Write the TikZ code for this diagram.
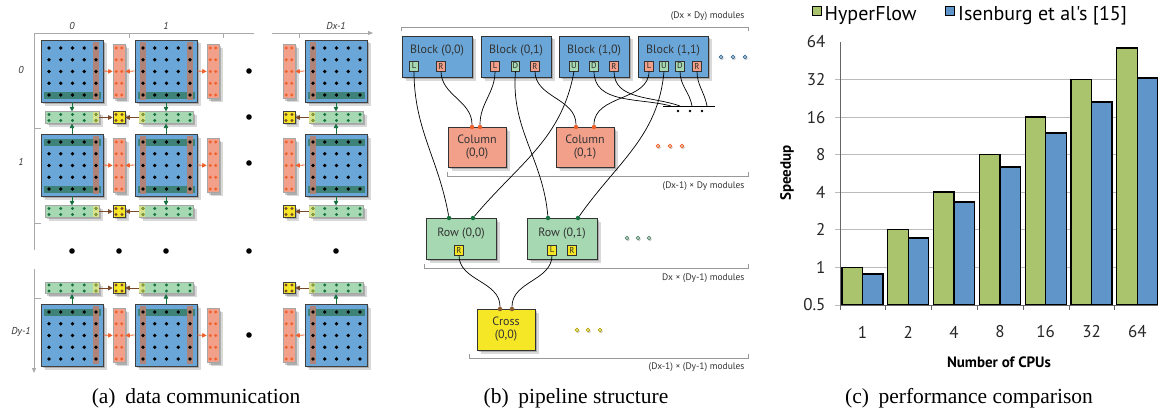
\documentclass[tikz,border=0pt]{standalone}
\usepackage{fontspec}
\setmainfont{Liberation Serif}
\newfontfamily\pts{PT Sans}
\usetikzlibrary{shadows,arrows.meta}
\newcommand{\myfs}[1]{\fontsize{#1}{#1}\selectfont}
\definecolor{blk}{HTML}{6AA7D8}
\definecolor{brs}{HTML}{B7806E}
\definecolor{grs}{HTML}{3B7F6E}
\definecolor{sal}{HTML}{F2A08A}
\definecolor{salD}{HTML}{F0602A}
\definecolor{rowg}{HTML}{A6D8B2}
\definecolor{rowD}{HTML}{167040}
\definecolor{yel}{HTML}{F5E626}
\definecolor{yelg}{HTML}{D9E28C}
\definecolor{yelD}{HTML}{8C9A38}
\definecolor{brn}{HTML}{7A4A28}
\definecolor{axg}{HTML}{AAAAAA}
\definecolor{barG}{HTML}{A9C46C}
\definecolor{barB}{HTML}{5F95C8}
\definecolor{gridc}{HTML}{BBBBBB}
\definecolor{dotb}{HTML}{3A6F9A}
\definecolor{dotg}{HTML}{5A8A70}
\definecolor{doty}{HTML}{B8A800}
\definecolor{dotn}{HTML}{8A5A30}
\begin{document}
\begin{tikzpicture}[x=1pt,y=-1pt,
 shad/.style={drop shadow={shadow xshift=2pt,shadow yshift=-2pt,opacity=.2,fill=black},drop shadow={shadow xshift=3.5pt,shadow yshift=-3.5pt,opacity=.15,fill=black}},
 eshad/.style={drop shadow={shadow xshift=1pt,shadow yshift=-1.5pt,opacity=.2,fill=black}},
 ablock/.style={draw=black!75,line width=0.8pt,fill=blk,minimum width=62pt,minimum height=62pt,inner sep=0pt,shad},
 salstrip/.style={draw=black!35,line width=0.6pt,fill=sal,minimum width=12pt,minimum height=54pt,inner sep=0pt,shad},
 rowstrip/.style={draw=black!35,line width=0.6pt,fill=rowg,minimum width=54pt,minimum height=11.5pt,inner sep=0pt,shad},
 crossb/.style={draw=black!75,line width=0.6pt,fill=yel,minimum width=12pt,minimum height=11.5pt,inner sep=0pt,shad},
 gstr/.style={fill=grs,fill opacity=.9},
 bstr/.style={fill=brs,fill opacity=.9},
 oarr/.style={draw=salD,line width=0.8pt,-{Triangle[length=4.5pt,width=4.5pt]}},
 garr/.style={draw=rowD,line width=0.8pt,-{Triangle[length=4.5pt,width=4.5pt]}},
 narr/.style={draw=brn,line width=0.8pt,-{Triangle[length=4.5pt,width=4.5pt]}},
 axln/.style={draw=axg,line width=0.8pt},
 alab/.style={font=\pts\itshape\myfs{10},text=black!80},
 bblock/.style={draw=black!80,line width=0.9pt,fill=blk,minimum width=70pt,minimum height=41pt,inner sep=0pt,shad},
 colbox/.style={draw=black!80,line width=0.9pt,fill=sal,minimum width=58pt,minimum height=40pt,inner sep=0pt,shad,align=center,font=\pts\myfs{12},text=black!80},
 rowbox/.style={draw=black!80,line width=0.9pt,fill=rowg,minimum width=70pt,minimum height=41pt,inner sep=0pt,shad},
 crossbox/.style={draw=black!80,line width=0.9pt,fill=yel,minimum width=58pt,minimum height=41pt,inner sep=0pt,shad,align=center,font=\pts\myfs{12},text=black!80},
 mtext/.style={font=\pts\myfs{12},text=black!80,anchor=base},
 portb/.style={draw=black!80,line width=0.6pt,minimum width=8.5pt,minimum height=10pt,inner sep=0pt,font=\pts\myfs{8.5},text=black!85},
 pG/.style={portb,fill=rowg},
 pS/.style={portb,fill=sal},
 pY/.style={portb,fill=yel},
 cdot/.style={circle,fill=#1,inner sep=0pt,minimum size=4.5pt},
 edot/.style={circle,draw=#1,fill=#1!35,line width=0.6pt,inner sep=0pt,minimum size=3.8pt,eshad},
 wire/.style={draw=black,line width=0.7pt},
 brk/.style={draw=black!40,line width=0.8pt},
 blab/.style={font=\pts\myfs{9.5},text=black!80},
 barst/.style={draw=black,line width=1.3pt},
 ctext/.style={font=\pts\myfs{17},text=black!85},
 captxt/.style={font=\myfs{21.5},anchor=base}
]
\useasboundingbox (0,0) rectangle (1158,412);

% ================= panel (a) =================
\draw[axln] (34,33) -- (254,33);
\draw[axln] (129,33) -- (129,38);
\draw[axln] (223,33) -- (223,38);
\draw[axln,-{Triangle[length=5pt,width=4pt]}] (272,33) -- (373,33);
\draw[axln] (299,33) -- (299,38);
\draw[axln] (34,33) -- (34,250);
\draw[axln] (34,128) -- (41,128);
\draw[axln] (34,223) -- (41,223);
\draw[axln,-{Triangle[length=5pt,width=4pt]}] (34,269) -- (34,373);
\draw[axln] (34,298) -- (41,298);
\node[alab] (lc0) at (72,26) {0};
\node[alab] (lc1) at (166,26) {1};
\node[alab] (lc2) at (336,26) {Dx-1};
\node[alab] (lr0) at (21,70) {0};
\node[alab] (lr1) at (21,162) {1};
\node[alab] (lr2) at (21,332) {Dy-1};

\foreach \r/\ry in {0/40,1/134,2/304}{
 \foreach \c/\cx in {0/41,1/135,2/305}{
  \node[ablock] (A\r\c) at (\cx+31,\ry+31) {};
 }}
\foreach \ry in {40,134}{\foreach \cx in {41,135,305}{\fill[gstr] (\cx+3,\ry+52) rectangle (\cx+60,\ry+59);}}
\foreach \ry in {134,304}{\foreach \cx in {41,135,305}{\fill[gstr] (\cx+3,\ry+4.5) rectangle (\cx+60,\ry+11.5);}}
\foreach \ry in {40,134,304}{
  \foreach \cx in {41,135}{\fill[bstr] (\cx+52,\ry+2) rectangle (\cx+58,\ry+60);}
  \foreach \cx in {135,305}{\fill[bstr] (\cx+5,\ry+2) rectangle (\cx+11,\ry+60);}}
\foreach \ry in {40,134,304}{\foreach \cx in {41,135,305}{\foreach \i in {0,...,4}{\foreach \j in {0,...,4}{
  \fill (\cx+8+11.75*\i,\ry+8+11.75*\j) circle (1.9pt);}}}}

\foreach \r/\ry in {0/40,1/134,2/304}{
 \foreach \c/\sx in {0/113,1/207,2/283}{
  \node[salstrip] (S\r\c) at (\sx+6,\ry+31.5) {};
  \foreach \j in {0,...,4}{
   \fill[salD] (\sx+3.2,\ry+8+11.75*\j) circle (1.6pt);
   \fill[salD] (\sx+8.8,\ry+8+11.75*\j) circle (1.6pt);}
 }}
\foreach \r in {0,1,2}{
 \draw[oarr] (A\r0.east) -- (S\r0.west);
 \draw[oarr] (A\r1.west) -- (S\r0.east);
 \draw[oarr] (A\r1.east) -- (S\r1.west);
 \draw[oarr] (A\r2.west) -- (S\r2.east);
}

\foreach \k/\yy in {a/117.5,b/211.5,c/288}{
 \foreach \c/\sx in {0/45,1/139,2/309}{
  \node[rowstrip] (R\k\c) at (\sx+27,\yy) {};
 }
 \fill[yelg] (93,\yy-5.4) rectangle (98.6,\yy+5.4);
 \fill[yelg] (139.4,\yy-5.4) rectangle (145,\yy+5.4);
 \fill[yelg] (309.4,\yy-5.4) rectangle (315,\yy+5.4);
 \foreach \sx in {45,139,309}{\foreach \i in {0,...,4}{
  \fill[rowD] (\sx+4+11.75*\i,\yy-3) circle (1.6pt);
  \fill[rowD] (\sx+4+11.75*\i,\yy+3) circle (1.6pt);}}
 \foreach \px in {96,143,313}{
  \fill[yelD] (\px,\yy-3) circle (1.6pt);
  \fill[yelD] (\px,\yy+3) circle (1.6pt);}
 \node[crossb] (X\k0) at (119,\yy) {};
 \node[crossb] (X\k2) at (289,\yy) {};
 \foreach \px in {116,122,286,292}{
  \fill[brn] (\px,\yy-3) circle (1.6pt);
  \fill[brn] (\px,\yy+3) circle (1.6pt);}
 \draw[narr] (R\k0.east) -- (X\k0.west);
 \draw[narr] (R\k1.west) -- (X\k0.east);
 \draw[narr] (R\k2.west) -- (X\k2.east);
}
\foreach \c in {0,1,2}{
 \draw[garr] (A0\c.south) -- (Ra\c.north);
 \draw[garr] (A1\c.north) -- (Ra\c.south);
 \draw[garr] (A1\c.south) -- (Rb\c.north);
 \draw[garr] (A2\c.north) -- (Rc\c.south);
}
\foreach \p in {(249,71),(249,117),(249,163),(249,335),(72,251),(119,251),(166,251),(249,251),(336,251)}{
 \fill \p circle (2.8pt);}

% ================= panel (b) =================
\draw[brk] (401,31) -- (401,27) -- (748,27) -- (748,31);
\node[blab,anchor=east] (m1) at (748,16) {(Dx × Dy) modules};
\node[bblock] (B00) at (437,56.5) {};
\node[bblock] (B01) at (516,56.5) {};
\node[bblock] (B10) at (594,56.5) {};
\node[bblock] (B11) at (673,56.5) {};
\node[mtext] at (437,54) {Block (0,0)};
\node[mtext] at (516,54) {Block (0,1)};
\node[mtext] at (594,54) {Block (1,0)};
\node[mtext] at (673,54) {Block (1,1)};
\node[pG] (B00L) at (414,66) {L};
\node[pS] (B00R) at (441,66) {R};
\node[pS] (B01L) at (495,66) {L};
\node[pG] (B01D) at (515.5,66) {D};
\node[pS] (B01R) at (535,66) {R};
\node[pG] (B10U) at (574,66) {U};
\node[pG] (B10D) at (594,66) {D};
\node[pS] (B10R) at (614,66) {R};
\node[pS] (B11L) at (649,66) {L};
\node[pG] (B11U) at (664,66) {U};
\node[pG] (B11D) at (680,66) {D};
\node[pS] (B11R) at (697,66) {R};
\node[edot=dotb] (e1) at (721,57) {};
\node[edot=dotb] (e2) at (733,57) {};
\node[edot=dotb] (e3) at (745,57) {};

\node[colbox] (C00) at (477,147) {Column\\[1pt](0,0)};
\node[colbox] (C01) at (585,147) {Column\\[1pt](0,1)};
\node[cdot=salD] (C00a) at (472,127) {};
\node[cdot=salD] (C00b) at (480,127) {};
\node[cdot=salD] (C01a) at (576,127) {};
\node[cdot=salD] (C01b) at (594,127) {};
\node[edot=salD] (f1) at (658,146) {};
\node[edot=salD] (f2) at (670,146) {};
\node[edot=salD] (f3) at (682,146) {};
\draw[brk] (447,172) -- (447,176) -- (748,176) -- (748,172);
\node[blab,anchor=east] (m2) at (748,186) {(Dx-1) × Dy modules};

\draw[wire] (663,106) -- (715,106);
\coordinate (L1) at (671,106);
\coordinate (L2) at (680,106);
\coordinate (L3) at (692,106);
\coordinate (L4) at (707,106);
\fill (678,111) circle (1.3pt) (690,111) circle (1.3pt) (702,111) circle (1.3pt);

\node[rowbox] (W00) at (461,238.5) {};
\node[rowbox] (W01) at (562,238.5) {};
\node[mtext] at (461,236) {Row (0,0)};
\node[mtext] at (562,236) {Row (0,1)};
\node[pY] (W00R) at (459,250) {R};
\node[pY] (W01L) at (552,250) {L};
\node[pY] (W01R) at (572,250) {R};
\node[cdot=rowD] (W00a) at (449,218) {};
\node[cdot=rowD] (W00b) at (473,218) {};
\node[cdot=rowD] (W01a) at (548,218) {};
\node[cdot=rowD] (W01b) at (578,218) {};
\node[edot=dotg] (g1) at (627,238) {};
\node[edot=dotg] (g2) at (638,238) {};
\node[edot=dotg] (g3) at (649,238) {};
\draw[brk] (424,264) -- (424,268) -- (748,268) -- (748,264);
\node[blab,anchor=east] (m3) at (748,278) {Dx × (Dy-1) modules};

\node[crossbox] (K00) at (506,329.5) {Cross\\[1pt](0,0)};
\node[cdot=dotn] (K00a) at (500,309) {};
\node[cdot=dotn] (K00b) at (512,309) {};
\node[edot=doty] (h1) at (577,330) {};
\node[edot=doty] (h2) at (588,330) {};
\node[edot=doty] (h3) at (600,330) {};
\draw[brk] (469,354) -- (469,358) -- (748,358) -- (748,354);
\node[blab,anchor=east] (m4) at (748,367) {(Dx-1) × (Dy-1) modules};

\draw[wire] (B00L.south) to[out=-90,in=100] (W00a);
\draw[wire] (B00R.south) to[out=-90,in=90] (C00a);
\draw[wire] (B01L.south) to[out=-90,in=90] (C00b);
\draw[wire] (B01D.south) to[out=-95,in=95] (W01a);
\draw[wire] (B01R.south) to[out=-90,in=90] (C01a);
\draw[wire] (B10U.south) to[out=-100,in=50] (W00b);
\draw[wire] (B10D.south) to[out=-90,in=165] (L1);
\draw[wire] (B10R.south) to[out=-90,in=160] (L2);
\draw[wire] (B11L.south) to[out=-90,in=90] (C01b);
\draw[wire] (B11U.south) to[out=-95,in=55] (W01b);
\draw[wire] (B11D.south) to[out=-90,in=100] (L3);
\draw[wire] (B11R.south) to[out=-90,in=100] (L4);
\draw[wire] (W00R.south) to[out=-90,in=90] (K00a);
\draw[wire] (W01L.south) to[out=-90,in=90] (K00b);

% ================= panel (c) =================
\foreach \k in {0,...,6}{
 \draw[draw=gridc,line width=0.8pt] (835,305-37.57*\k) -- (1158,305-37.57*\k);}
\draw[draw=black!60,line width=0.8pt] (840,42) -- (840,305);
\foreach \i/\g/\b in {0/267.5/274,1/229.5/238,2/192/202,3/154.5/167,4/117/133,5/79.5/102,6/48/78}{
 \draw[barst,fill=barG] (842+45.8*\i,305) rectangle (862.5+45.8*\i,\g);
 \draw[barst,fill=barB] (862.5+45.8*\i,305) rectangle (883+45.8*\i,\b);
}
\draw[draw=black!60,line width=0.8pt] (840,305) -- (1158,305);
\foreach \i in {0,...,6}{\draw[draw=black!60,line width=0.8pt] (840+45.8*\i,305) -- (840+45.8*\i,310);}
\foreach \i/\t in {0/1,1/2,2/4,3/8,4/16,5/32,6/64}{
 \node[ctext] at (862.5+45.8*\i,332) {\t};}
\foreach \k/\t in {0/0.5,1/1,2/2,3/4,4/8,5/16,6/32,7/64}{
 \node[ctext,anchor=east] at (829,305-37.57*\k) {\t};}
\node[font=\pts\bfseries\myfs{15},rotate=90] (yl) at (787,173) {Speedup};
\node[font=\pts\bfseries\myfs{15}] (xl) at (999,362) {Number of CPUs};
\draw[line width=1pt,fill=barG] (812,7) rectangle (821,16);
\node[font=\pts\myfs{20},anchor=base west,inner sep=0pt] (lg1) at (824.5,21) {HyperFlow};
\draw[line width=1pt,fill=barB] (945,7) rectangle (954,16);
\node[font=\pts\myfs{20},anchor=base west,inner sep=0pt] (lg2) at (958,21) {Isenburg et al's [15]};

\node[captxt] (capa) at (196,403) {(a)\hspace{0.45em}data communication};
\node[captxt] (capb) at (576,403) {(b)\hspace{0.45em}pipeline structure};
\node[captxt] (capc) at (969,403) {(c)\hspace{0.45em}performance comparison};
\end{tikzpicture}
\end{document}
